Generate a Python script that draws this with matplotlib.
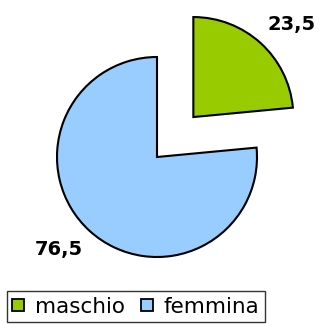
import matplotlib.pyplot as plt
import numpy as np

# share by gender
categories = ['maschio', 'femmina']
values = [23.5, 76.5]
value_labels = ['23,5', '76,5']
colors = ['#99cc00', '#99ccff']

fig = plt.figure(figsize=(3.2, 3.25), dpi=100)
ax = fig.add_axes([0, 0, 1, 1])

# explode is in data units here since radius is 100
wedges, _ = ax.pie(values, colors=colors, startangle=90, counterclock=False,
                   radius=100, center=(157, 168), explode=[54, 0],
                   wedgeprops=dict(edgecolor='black', linewidth=1.5))

# value labels outside each wedge, nudged a bit clockwise
for w, txt in zip(wedges, value_labels):
    ang = np.deg2rad((w.theta1 + w.theta2) / 2 - 4.5)
    cx, cy = w.center
    ax.text(cx + 1.35 * w.r * np.cos(ang), cy + 1.35 * w.r * np.sin(ang), txt,
            ha='center', va='center', fontsize=14, fontweight='bold',
            family='DejaVu Sans')

ax.set_xlim(0, 320)
ax.set_ylim(0, 325)
ax.set_aspect('equal')
ax.axis('off')

leg = fig.legend(wedges, categories, loc='lower left',
                 bbox_to_anchor=(7 / 320, 3 / 325), ncol=2, frameon=True,
                 fancybox=False, edgecolor='black', fontsize=15.5,
                 handlelength=0.55, handleheight=0.55, handletextpad=0.5,
                 columnspacing=0.75, borderpad=0.25, borderaxespad=0)
leg.get_frame().set_linewidth(1.0)
for h in leg.legend_handles:
    h.set_linewidth(1.3)

fig.savefig('out.png', dpi=100)
